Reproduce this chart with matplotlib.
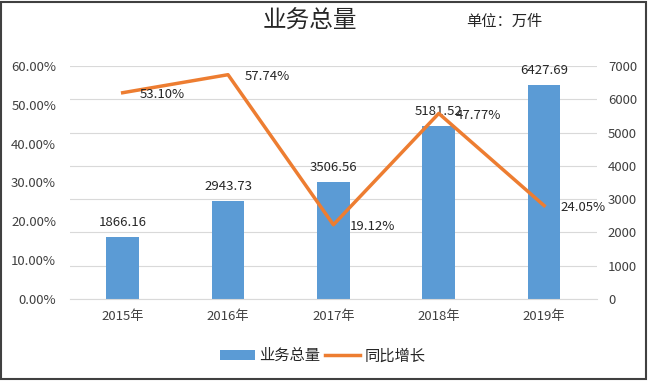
import matplotlib.pyplot as plt
from matplotlib.patches import Rectangle
from matplotlib.ticker import FuncFormatter

plt.rcParams['font.family'] = ['Noto Sans CJK SC', 'DejaVu Sans']

years = ['2015年', '2016年', '2017年', '2018年', '2019年']
volume = [1866.16, 2943.73, 3506.56, 5181.52, 6427.69]
growth = [53.10, 57.74, 19.12, 47.77, 24.05]

bar_color = '#5B9BD5'
line_color = '#ED7D31'
text_color = '#404040'

fig = plt.figure(figsize=(6.48, 3.81), dpi=100)
ax = fig.add_axes([0.108, 0.215, 0.813, 0.612])
ax2 = ax.twinx()

x = range(len(years))

# bars on the right axis, line on the left axis (line drawn on top)
ax2.bar(x, volume, width=0.31, color=bar_color, zorder=2, label='业务总量')
ax2.set_ylim(0, 7000)
ax2.set_yticks(range(0, 7001, 1000))
for xi, v in zip(x, volume):
    ax2.annotate(f'{v:.2f}', (xi, v), xytext=(0, 6), textcoords='offset points',
                 ha='center', va='bottom', fontsize=9.5, color='#262626', zorder=5)

ax.set_zorder(ax2.get_zorder() + 1)
ax.patch.set_visible(False)
ax.plot(x, growth, color=line_color, linewidth=2.5, zorder=3, label='同比增长')
ax.set_ylim(0, 60)
ax.set_yticks(range(0, 61, 10))
ax.yaxis.set_major_formatter(FuncFormatter(lambda v, p: f'{v:.2f}%'))
for xi, g in zip(x, growth):
    ax.annotate(f'{g:.2f}%', (xi, g), xytext=(12, -1.5), textcoords='offset points',
                ha='left', va='center', fontsize=9.5, color='#262626', zorder=5)

ax.set_xlim(-0.5, len(years) - 0.5)
ax.set_xticks(list(x))
ax.set_xticklabels(years)

ax2.grid(axis='y', color='#D9D9D9', linewidth=0.8, zorder=0)
ax2.set_axisbelow(True)

for a in (ax, ax2):
    for s in a.spines.values():
        s.set_visible(False)
    a.tick_params(length=0, labelsize=9.5, colors=text_color)
ax.tick_params(axis='y', pad=10)
ax2.tick_params(axis='y', pad=8)
ax.tick_params(axis='x', pad=8)
ax.spines['bottom'].set_visible(True)
ax.spines['bottom'].set_color('#D9D9D9')

fig.text(0.478, 0.945, '业务总量', ha='center', va='center', fontsize=17, color='#262626')
fig.text(0.778, 0.943, '单位：万件', ha='center', va='center', fontsize=11, color='#262626')

h1, l1 = ax2.get_legend_handles_labels()
h2, l2 = ax.get_legend_handles_labels()
fig.legend(h1 + h2, l1 + l2, loc='center', bbox_to_anchor=(0.498, 0.066), ncol=2,
           frameon=False, fontsize=11, handlelength=2.3, columnspacing=0.3,
           handletextpad=0.3, labelcolor='#262626')

fig.patches.append(Rectangle((0.002, 0.004), 0.995, 0.99, transform=fig.transFigure,
                             fill=False, edgecolor='#404040', linewidth=1.5))

fig.savefig('out.png', dpi=100)
